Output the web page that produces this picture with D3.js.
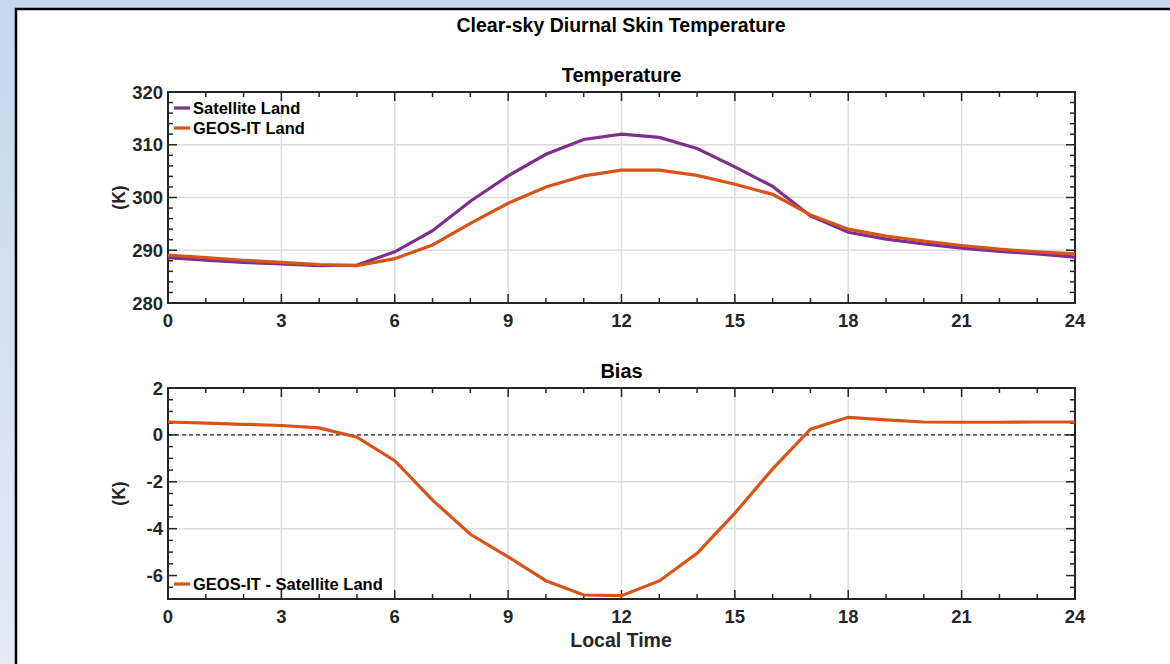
<!DOCTYPE html>
<html>
<head>
<meta charset="utf-8">
<style>
  body { margin: 0; background: #fff; }
  svg text { font-family: "Liberation Sans", Arial, sans-serif; font-weight: bold; fill: #262626; }
  .title { fill: #000; }
</style>
</head>
<body>
<svg width="1170" height="664"></svg>
<script src="https://cdn.jsdelivr.net/npm/d3@7"></script>
<script>

// local time, hours
var hours = d3.range(0, 25);

var satelliteLand = [288.6, 288.1, 287.7, 287.4, 287.1, 287.2, 289.7, 293.7, 299.3, 304.1, 308.2, 311.0, 312.0,
                     311.4, 309.3, 305.8, 302.1, 296.5, 293.4, 292.1, 291.2, 290.4, 289.8, 289.3, 288.7];
var geosLand      = [289.1, 288.6, 288.1, 287.7, 287.3, 287.1, 288.4, 291.0, 295.1, 298.9, 302.0, 304.1, 305.2,
                     305.2, 304.2, 302.5, 300.6, 296.7, 294.0, 292.7, 291.75, 290.9, 290.2, 289.7, 289.3];
var biasLand      = [0.55, 0.5, 0.45, 0.4, 0.3, -0.1, -1.1, -2.78, -4.24, -5.2, -6.22, -6.83, -6.86,
                     -6.23, -5.05, -3.34, -1.45, 0.24, 0.75, 0.64, 0.55, 0.54, 0.54, 0.55, 0.55];

var xTicks = [0, 3, 6, 9, 12, 15, 18, 21, 24];
var tempTicks = [280, 290, 300, 310, 320];
var biasTicks = [-6, -4, -2, 0, 2];

var purple = "#7e2f8e", orange = "#d95319";

var svg = d3.select("svg");

// page background + figure frame
var grad = svg.append("defs").append("linearGradient")
    .attr("id", "bg").attr("x1", 0).attr("y1", 0).attr("x2", 0).attr("y2", 1);
grad.append("stop").attr("offset", "0%").attr("stop-color", "#c6d6ee");
grad.append("stop").attr("offset", "100%").attr("stop-color", "#e3eaf6");
svg.append("rect").attr("width", 1170).attr("height", 664).attr("fill", "url(#bg)");
svg.append("rect").attr("x", 16).attr("y", 9).attr("width", 1170).attr("height", 700)
    .attr("fill", "#fff").attr("stroke", "#000").attr("stroke-width", 2.5);

svg.append("text").attr("class", "title")
    .attr("x", 621).attr("y", 32).attr("text-anchor", "middle")
    .style("font-size", "19.5px")
    .text("Clear-sky Diurnal Skin Temperature");

var left = 168, right = 1075;
var x = d3.scaleLinear().domain([0, 24]).range([left, right]);

function panel(top, bottom, yDomain, yTicks, yMinor, title) {
  var y = d3.scaleLinear().domain(yDomain).range([bottom, top]);
  var g = svg.append("g");

  // grid
  g.selectAll(".gx").data(xTicks.slice(1, -1)).enter().append("line")
      .attr("x1", x).attr("x2", x).attr("y1", top).attr("y2", bottom)
      .attr("stroke", "#dcdcdc").attr("stroke-width", 1.5);
  g.selectAll(".gy").data(yTicks.slice(1, -1)).enter().append("line")
      .attr("x1", left).attr("x2", right).attr("y1", y).attr("y2", y)
      .attr("stroke", "#dcdcdc").attr("stroke-width", 1.5);

  // box ticks (inward, all four sides)
  var tc = "#262626";
  var xMinor = d3.range(0, 25);
  var yMin = d3.range(yDomain[0], yDomain[1] + 1e-9, yMinor);
  g.selectAll(".tb").data(xMinor).enter().append("line")
      .attr("x1", x).attr("x2", x)
      .attr("y1", bottom).attr("y2", function(d) { return bottom - (xTicks.indexOf(d) >= 0 ? 9 : 5); })
      .attr("stroke", tc).attr("stroke-width", 1.5);
  g.selectAll(".tt").data(xMinor).enter().append("line")
      .attr("x1", x).attr("x2", x)
      .attr("y1", top).attr("y2", function(d) { return top + (xTicks.indexOf(d) >= 0 ? 9 : 5); })
      .attr("stroke", tc).attr("stroke-width", 1.5);
  function isMajor(d) { return yTicks.some(function(t) { return Math.abs(t - d) < 1e-6; }); }
  g.selectAll(".tl").data(yMin).enter().append("line")
      .attr("y1", y).attr("y2", y)
      .attr("x1", left).attr("x2", function(d) { return left + (isMajor(d) ? 9 : 5); })
      .attr("stroke", tc).attr("stroke-width", 1.5);
  g.selectAll(".tr").data(yMin).enter().append("line")
      .attr("y1", y).attr("y2", y)
      .attr("x1", right).attr("x2", function(d) { return right - (isMajor(d) ? 9 : 5); })
      .attr("stroke", tc).attr("stroke-width", 1.5);

  g.append("rect").attr("x", left).attr("y", top)
      .attr("width", right - left).attr("height", bottom - top)
      .attr("fill", "none").attr("stroke", tc).attr("stroke-width", 2);

  // tick labels
  g.selectAll(".lx").data(xTicks).enter().append("text")
      .attr("x", x).attr("y", bottom + 24).attr("text-anchor", "middle")
      .style("font-size", "18.5px").text(function(d) { return d; });
  g.selectAll(".ly").data(yTicks).enter().append("text")
      .attr("x", left - 5).attr("y", function(d) { return y(d) + 6.5; }).attr("text-anchor", "end")
      .style("font-size", "18.5px").text(function(d) { return d; });

  g.append("text").attr("class", "title")
      .attr("x", (left + right) / 2).attr("y", top - 10).attr("text-anchor", "middle")
      .style("font-size", "20px").text(title);

  g.append("text")
      .attr("transform", "translate(" + 125 + "," + ((top + bottom) / 2) + ") rotate(-90)")
      .attr("text-anchor", "middle").style("font-size", "17.5px").text("(K)");

  return { g: g, y: y };
}

// Temperature panel
var p1 = panel(92, 303, [280, 320], tempTicks, 2, "Temperature");
var line1 = d3.line().x(function(d, i) { return x(hours[i]); }).y(function(d) { return p1.y(d); });
p1.g.append("path").datum(satelliteLand).attr("d", line1)
    .attr("fill", "none").attr("stroke", purple).attr("stroke-width", 3.2);
p1.g.append("path").datum(geosLand).attr("d", line1)
    .attr("fill", "none").attr("stroke", orange).attr("stroke-width", 3.2);

var legend1 = [["Satellite Land", purple], ["GEOS-IT Land", orange]];
legend1.forEach(function(d, i) {
  var yy = 108 + i * 20;
  p1.g.append("line").attr("x1", 174).attr("x2", 190).attr("y1", yy).attr("y2", yy)
      .attr("stroke", d[1]).attr("stroke-width", 3.2);
  p1.g.append("text").attr("class", "title").attr("x", 193).attr("y", yy + 6)
      .style("font-size", "16.5px").text(d[0]);
});

// Bias panel
var p2 = panel(388, 599, [-7, 2], biasTicks, 0.5, "Bias");
p2.g.append("line").attr("x1", left).attr("x2", right)
    .attr("y1", p2.y(0)).attr("y2", p2.y(0))
    .attr("stroke", "#000").attr("stroke-width", 1).attr("stroke-dasharray", "4,3");
var line2 = d3.line().x(function(d, i) { return x(hours[i]); }).y(function(d) { return p2.y(d); });
p2.g.append("path").datum(biasLand).attr("d", line2)
    .attr("fill", "none").attr("stroke", orange).attr("stroke-width", 3.2);

p2.g.append("line").attr("x1", 174).attr("x2", 190).attr("y1", 584).attr("y2", 584)
    .attr("stroke", orange).attr("stroke-width", 3.2);
p2.g.append("text").attr("class", "title").attr("x", 193).attr("y", 590)
    .style("font-size", "16.5px").text("GEOS-IT - Satellite Land");

svg.append("text").attr("x", 621).attr("y", 647).attr("text-anchor", "middle")
    .style("font-size", "19.5px").text("Local Time");

</script>
</body>
</html>
